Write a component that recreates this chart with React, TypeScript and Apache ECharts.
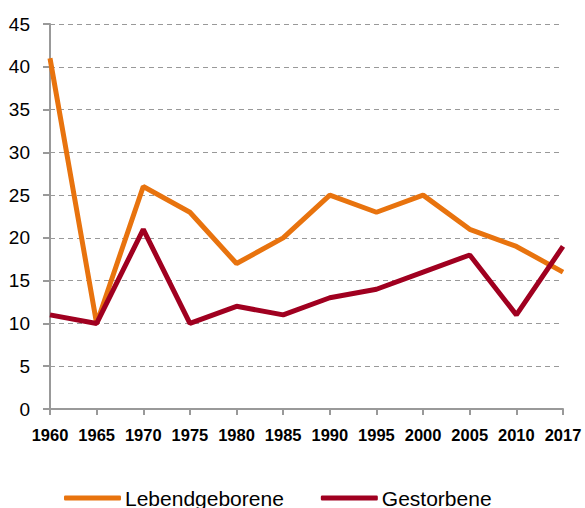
import React, { useEffect, useRef } from "react";
import * as echarts from "echarts";

const years = ["1960", "1965", "1970", "1975", "1980", "1985", "1990", "1995", "2000", "2005", "2010", "2017"];
const lebendgeborene = [41, 10, 26, 23, 17, 20, 25, 23, 25, 21, 19, 16];
const gestorbene = [11, 10, 21, 10, 12, 11, 13, 14, 16, 18, 11, 19];

export default function App() {
  const ref = useRef<HTMLDivElement>(null);
  useEffect(() => {
    const chart = echarts.init(ref.current!, null, { renderer: "svg" });
    chart.setOption({
      animation: false,
      grid: { left: 50, right: 22, top: 24, bottom: 99, containLabel: false },
      legend: {
        top: 487,
        left: 64,
        padding: 0,
        itemWidth: 57,
        itemHeight: 5,
        itemGap: 37,
        icon: "roundRect",
        textStyle: { fontFamily: "Liberation Sans, Arial, sans-serif", fontSize: 21, lineHeight: 22, color: "#000", padding: [0, 0, 0, -1] },
        data: ["Lebendgeborene", "Gestorbene"],
      },
      xAxis: {
        type: "category",
        data: years,
        boundaryGap: false,
        axisLine: { lineStyle: { color: "#999", width: 2 } },
        axisTick: { show: true, length: 6, interval: 0, lineStyle: { color: "#999", width: 2 } },
        axisLabel: {
          color: "#000",
          fontFamily: "Liberation Sans, Arial, sans-serif",
          fontWeight: "bold",
          fontSize: 16.5,
          margin: 17,
          interval: 0,
        },
        splitLine: { show: false },
      },
      yAxis: {
        type: "value",
        min: 0,
        max: 45,
        interval: 5,
        axisLine: { show: true, lineStyle: { color: "#999", width: 2 } },
        axisTick: { show: true, length: 7, lineStyle: { color: "#999", width: 2 } },
        axisLabel: {
          color: "#000",
          fontFamily: "Liberation Sans, Arial, sans-serif",
          fontSize: 19,
          margin: 20,
        },
        splitLine: { show: true, lineStyle: { color: "#999", type: [5, 4], width: 1 } },
      },
      series: [
        {
          name: "Lebendgeborene",
          type: "line",
          data: lebendgeborene,
          showSymbol: false,
          symbol: "none",
          lineStyle: { color: "#E8730E", width: 5 },
          itemStyle: { color: "#E8730E" },
        },
        {
          name: "Gestorbene",
          type: "line",
          data: gestorbene,
          showSymbol: false,
          symbol: "none",
          lineStyle: { color: "#A00020", width: 5 },
          itemStyle: { color: "#A00020" },
        },
      ],
    });
    return () => chart.dispose();
  }, []);
  return <div ref={ref} style={{ width: 585, height: 508, position: "absolute", left: 0, top: 0 }} />;
}
